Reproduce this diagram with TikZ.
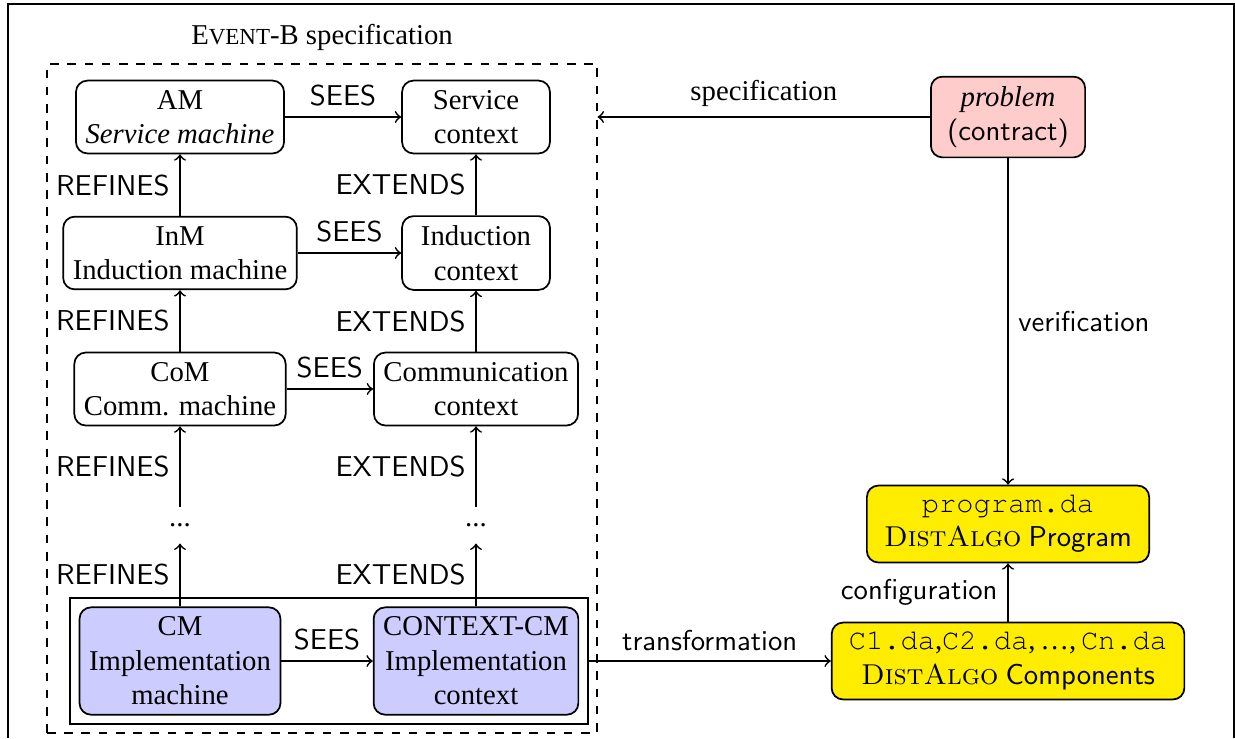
\documentclass[tikz,border=0pt]{standalone}
\usepackage{fontspec}
\setmainfont{Liberation Serif}
\setmonofont{texgyrecursor-regular}[Extension=.otf]
\newfontfamily\lmcaps{lmromancaps10-regular}[Extension=.otf]
\usetikzlibrary{fit}
\definecolor{evtblue}{rgb}{0.8, 0.8, 1}
\definecolor{evtred}{rgb}{1, 0.8, 0.8}
\definecolor{dayellow}{rgb}{1, 0.93, 0}
\newcommand{\distalgo}{{\lmcaps DistAlgo}}
\newcommand{\eventb}{E{\footnotesize VENT}-B}
\tikzset{mbox/.style={draw, semithick, rounded corners, align=center}}
\tikzset{ctx/.style={mbox, minimum width=51.5pt}}
\tikzset{dabox/.style={mbox, fill=dayellow, inner xsep=6pt}}
\tikzset{rel/.style={->, semithick}}
\tikzset{lbl/.style={font=\sffamily}}

\begin{document}
\begin{tikzpicture}[x=1.224mm, y=1.224mm]%{{{
        \useasboundingbox (0,0) rectangle (123.5,-73.8);
        \draw[line width=0.5pt] (0.8,-73.8) -- (0.8,-0.4) -- (123.4,-0.4) -- (123.4,-73.8);

        % Event-B side
        \node[mbox] (AM) at (18.0,-11.7) {AM\\\textit{Service machine}};
        \node[ctx] (SC) at (47.6,-11.7) {Service\\context};
        \node[mbox] (InM) at (18.0,-25.3) {InM\\Induction machine};
        \node[ctx] (IC) at (47.6,-25.3) {Induction\\context};
        \node[mbox] (CoM) at (18.0,-38.9) {CoM\\Comm. machine};
        \node[ctx] (CC) at (47.6,-38.9) {Communication\\context};
        \node[minimum height=12.5pt, inner sep=0pt] (Da) at (18.0,-52.5) {...};
        \node[minimum height=12.5pt, inner sep=0pt] (Db) at (47.6,-52.5) {...};
        \node[mbox, fill=evtblue] (CM) at (18.0,-66.1) {CM\\Implementation\\machine};
        \node[mbox, fill=evtblue] (CCM) at (47.6,-66.1) {CONTEXT-CM\\Implementation\\context};
        \node[draw, semithick, fit=(CM)(CCM), inner sep=3pt] (impl) {};
        \node[draw, dashed, fit={(4.7,-6.4) (59.7,-73.3)}, inner sep=0pt,
              label={[label distance=1pt]above:\eventb{} specification}] (spec) {};

        \draw [rel] (AM) -- (SC) node[midway, above, lbl] {SEES};
        \draw [rel] (InM) -- (IC) node[midway, above, lbl] {SEES};
        \draw [rel] (CoM) -- (CC) node[midway, above, lbl] {SEES};
        \draw [rel] (CM) -- (CCM) node[midway, above, lbl] {SEES};

        \draw [rel] (InM) -- (AM) node[midway, left, lbl] {REFINES};
        \draw [rel] (CoM) -- (InM) node[midway, left, lbl] {REFINES};
        \draw [rel] (Da) -- (CoM) node[midway, left, lbl] {REFINES};
        \draw [rel] (CM) -- (Da) node[midway, left, lbl] {REFINES};
        \draw [rel] (IC) -- (SC) node[midway, left, lbl] {EXTENDS};
        \draw [rel] (CC) -- (IC) node[midway, left, lbl] {EXTENDS};
        \draw [rel] (Db) -- (CC) node[midway, left, lbl] {EXTENDS};
        \draw [rel] (CCM) -- (Db) node[midway, left, lbl] {EXTENDS};

        % DistAlgo side
        \node[mbox, fill=evtred, minimum width=53.7pt] (problem) at (100.8,-11.7)
        {\textit{problem}\\\textsf{(contract)}};
        \node[dabox] (program) at (100.8,-52.4)
        {\texttt{program.da}\\\distalgo{} \textsf{Program}};
        \node[dabox] (comps) at (100.8,-66.1)
        {\texttt{C1.da},\texttt{C2.da},\,\ldots,\,\texttt{Cn.da}\\\distalgo{} \textsf{Components}};

        \draw [rel] (problem) -- (spec.east |- problem.west) node[midway, above] {specification};
        \draw [rel] (problem) -- (program) node[midway, right, lbl] {verification};
        \draw [rel] (comps) -- (program) node[midway, left, lbl] {configuration};
        \draw [rel] (impl) -- (comps) node[midway, above, lbl] {transformation};

   \end{tikzpicture}
\end{document}
